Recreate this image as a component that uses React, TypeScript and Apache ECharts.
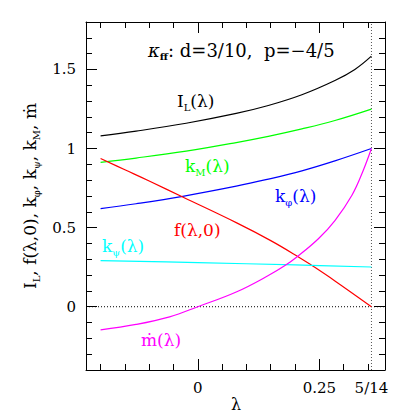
import React, { useEffect, useRef } from "react";
import * as echarts from "echarts";

// ---- data ----
const lamIL = [-0.2, -0.127, -0.024, 0.079, 0.145, 0.214, 0.282, 0.323, 0.357];
const valIL = [1.08, 1.11, 1.16, 1.222, 1.272, 1.34, 1.43, 1.5, 1.584];

const lamKM = [-0.2, -0.127, -0.024, 0.079, 0.145, 0.214, 0.282, 0.357];
const valKM = [0.913, 0.94, 0.984, 1.038, 1.077, 1.124, 1.177, 1.249];

const lamKphi = [-0.2, -0.127, -0.031, 0.079, 0.14, 0.214, 0.282, 0.357];
const valKphi = [0.62, 0.651, 0.698, 0.762, 0.803, 0.859, 0.922, 1.0];

const lamF = [-0.2, -0.15, -0.1, -0.03, 0.08, 0.15, 0.207, 0.234, 0.282, 0.357];
const valF = [0.937, 0.866, 0.795, 0.692, 0.53, 0.418, 0.315, 0.262, 0.163, 0.0];

const lamKpsi = [-0.2, 0, 0.2, 0.357];
const valKpsi = [0.291, 0.279, 0.264, 0.251];

const lamMdot = [-0.2, -0.127, -0.058, 0, 0.079, 0.145, 0.18, 0.205, 0.248, 0.282, 0.317, 0.34, 0.357];
const valMdot = [-0.146, -0.112, -0.064, 0, 0.093, 0.197, 0.262, 0.318, 0.43, 0.545, 0.705, 0.86, 1.0];

const LAMBDA_END = 5 / 14;

const xMajorTicks = [0, 0.25];
const xMinorTicks = [-0.2, -0.15, -0.1, -0.05, 0.05, 0.1, 0.15, 0.2, 0.3, 0.35];
const xLabelValues = [0, 0.25, LAMBDA_END];
const xLabelTexts = ["0", "0.25", "5/14"];

const yMajorTicks = [0, 0.5, 1, 1.5];
const yMinorTicks = [-0.3, -0.2, -0.1, 0.1, 0.2, 0.3, 0.4, 0.6, 0.7, 0.8, 0.9, 1.1, 1.2, 1.3, 1.4, 1.6, 1.7];
const yLabelTexts = ["0", "0.5", "1", "1.5"];

const XMIN = -0.23;
const XMAX = 0.385;
const YMIN = -0.4;
const YMAX = 1.8;

const FONT = "'DejaVu Serif', 'Liberation Serif', serif";

const zip = (a: number[], b: number[]) => a.map((v, i) => [v, b[i]]);

function mkRich(color: string, size = 17) {
  return {
    n: { fontFamily: FONT, fontSize: size, lineHeight: 22, fill: color, color },
    s: { fontFamily: FONT, fontSize: 10, lineHeight: 10, verticalAlign: "bottom", fill: color, color },
    ki: { fontFamily: FONT, fontSize: size, lineHeight: 22, fontStyle: "italic", fill: color, color },
    sb: { fontFamily: FONT, fontSize: 10, lineHeight: 10, verticalAlign: "bottom", fontWeight: "bold", fill: color, color },
  };
}

function label(x: number, y: number, text: string, color: string, size = 17, align = "left") {
  return {
    type: "text",
    x,
    y,
    silent: true,
    style: {
      text,
      rich: mkRich(color, size),
      fill: color,
      textAlign: align,
      textVerticalAlign: "middle",
      verticalAlign: "middle",
    },
  };
}

export default function App() {
  const ref = useRef<HTMLDivElement>(null);
  useEffect(() => {
    if (!ref.current) return;
    const chart = echarts.init(ref.current, null, { renderer: "svg" });
    const lineAx = { show: true, onZero: false, lineStyle: { color: "#000", width: 1 } };
    const noLine = { show: false, onZero: false };
    const xBase = {
      type: "value",
      min: XMIN,
      max: XMAX,
      splitLine: { show: false },
      axisLabel: { show: false },
    };
    const yBase = {
      type: "value",
      min: YMIN,
      max: YMAX,
      splitLine: { show: false },
      axisLabel: { show: false },
    };
    const tick = (len: number, vals: number[]) => ({
      show: true,
      inside: true,
      length: len,
      customValues: vals,
      lineStyle: { color: "#000", width: 1 },
    });
    const lineSeries = (data: number[][], color: string, width = 1.2, type: any = "solid", smooth: any = 0.4) => ({
      type: "line",
      data,
      xAxisIndex: 0,
      yAxisIndex: 0,
      showSymbol: false,
      symbol: "none",
      smooth,
      silent: true,
      lineStyle: { color, width, type },
    });
    chart.setOption({
      animation: false,
      backgroundColor: "#fff",
      grid: { left: 86, top: 22, right: 30, bottom: 45, containLabel: false, outerBoundsMode: "none" },
      xAxis: [
        {
          ...xBase,
          position: "bottom",
          axisLine: lineAx,
          axisTick: tick(11, xMajorTicks),
          axisLabel: {
            show: true,
            customValues: xLabelValues,
            margin: 10,
            fontFamily: FONT,
            fontSize: 15,
            color: "#000",
            formatter: (v: number) => {
              const i = xLabelValues.findIndex((q) => Math.abs(q - v) < 1e-6);
              return i >= 0 ? xLabelTexts[i] : "";
            },
          },
        },
        { ...xBase, position: "bottom", axisLine: noLine, axisTick: tick(6, xMinorTicks) },
        { ...xBase, position: "top", axisLine: lineAx, axisTick: tick(11, xMajorTicks) },
        { ...xBase, position: "top", axisLine: noLine, axisTick: tick(6, xMinorTicks) },
      ],
      yAxis: [
        {
          ...yBase,
          position: "left",
          axisLine: lineAx,
          axisTick: tick(11, yMajorTicks),
          axisLabel: {
            show: true,
            customValues: yMajorTicks,
            margin: 10,
            fontFamily: FONT,
            fontSize: 15,
            color: "#000",
            formatter: (v: number) => {
              const i = yMajorTicks.findIndex((q) => Math.abs(q - v) < 1e-6);
              return i >= 0 ? yLabelTexts[i] : "";
            },
          },
          name: "{n|I}{s|L}{n|, f(λ,0), k}{s|φ}{n|, k}{s|ψ}{n|, k}{s|M}{n|, ṁ}",
          nameLocation: "middle",
          nameGap: 43,
          nameRotate: 90,
          nameTextStyle: { rich: mkRich("#000", 17), color: "#000" },
        },
        { ...yBase, position: "left", axisLine: noLine, axisTick: tick(6, yMinorTicks) },
        { ...yBase, position: "right", axisLine: lineAx, axisTick: tick(11, yMajorTicks) },
        { ...yBase, position: "right", axisLine: noLine, axisTick: tick(6, yMinorTicks) },
      ],
      series: [
        lineSeries([[XMIN, 0], [XMAX, 0]], "#000", 1, [1, 2], false),
        lineSeries([[LAMBDA_END, YMIN], [LAMBDA_END, YMAX]], "#555", 1, [1, 2], false),
        lineSeries(zip(lamIL, valIL), "#000000"),
        lineSeries(zip(lamKM, valKM), "#00ff00"),
        lineSeries(zip(lamKphi, valKphi), "#0000ff"),
        lineSeries(zip(lamF, valF), "#ff0000"),
        lineSeries(zip(lamKpsi, valKpsi), "#00ffff"),
        lineSeries(zip(lamMdot, valMdot), "#ff00ff"),
      ],
      graphic: [
        label(148, 50, "{ki|κ}{sb|ff}{n|: d=3/10,  p=−4/5}", "#000", 18),
        label(177, 101, "{n|I}{s|L}{n|(λ)}", "#000"),
        label(185, 166, "{n|k}{s|M}{n|(λ)}", "#00ff00"),
        label(275, 196, "{n|k}{s|φ}{n|(λ)}", "#0000ff"),
        label(174, 230, "{n|f(λ,0)}", "#ff0000"),
        label(102, 246, "{n|k}{s|ψ}{n|(λ)}", "#00ffff"),
        label(141, 340, "{n|ṁ(λ)}", "#ff00ff"),
        {
          type: "text",
          x: 236,
          y: 404,
          silent: true,
          style: {
            text: "λ",
            font: "16px " + FONT,
            fill: "#000",
            textAlign: "center",
            textVerticalAlign: "middle",
            verticalAlign: "middle",
          },
        },
      ],
    });
    return () => chart.dispose();
  }, []);
  return (
    <div
      ref={ref}
      style={{ position: "fixed", left: 0, top: 0, width: 415, height: 415, background: "#fff" }}
    />
  );
}
